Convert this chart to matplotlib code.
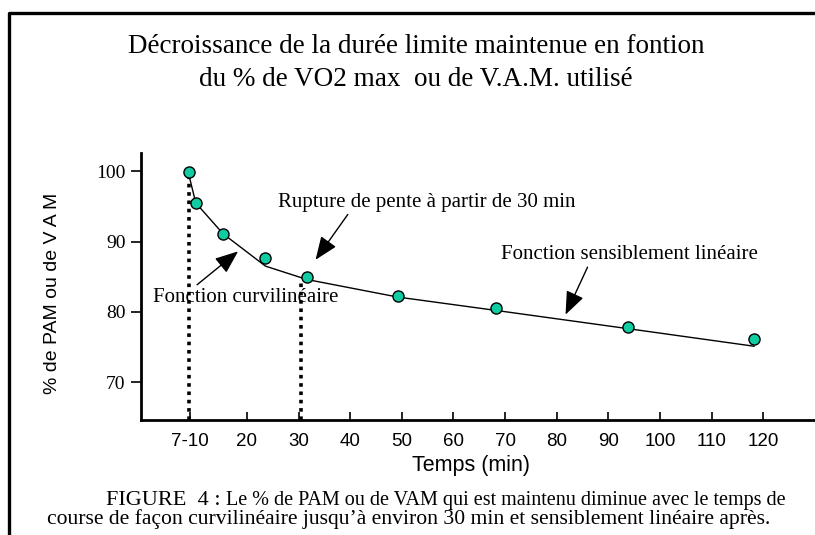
import matplotlib.pyplot as plt
from matplotlib.lines import Line2D

# measured points (minutes, % of PAM/VAM)
temps = [8.7, 10.1, 15.4, 23.6, 31.6, 49.2, 68.2, 93.8, 118.2]
pourcent = [99.9, 95.5, 91.1, 87.6, 84.9, 82.3, 80.5, 77.9, 76.1]

# hand-drawn trend curve through the points
courbe_x = [8.7, 10.1, 15.4, 23.6, 31.6, 49.2, 68.2, 93.8, 118.2]
courbe_y = [99.7, 95.5, 91.1, 86.5, 84.6, 82.1, 80.2, 77.6, 75.1]

# dotted markers at the start and at the slope break
repere_x = [8.8, 30.5]
repere_y = [99.7, 84.6]

xticks = [9, 20, 30, 40, 50, 60, 70, 80, 90, 100, 110, 120]
xlabels = ['7-10', '20', '30', '40', '50', '60', '70', '80', '90', '100', '110', '120']
yticks = [70, 80, 90, 100]

W, H = 815, 535
fig = plt.figure(figsize=(W / 100, H / 100), dpi=100)
ax = fig.add_axes([141 / W, 1 - 420 / H, (W - 141) / W, 267 / H])

serif = 'Liberation Serif'
sans = 'Liberation Sans'

ax.plot(courbe_x, courbe_y, color='black', lw=1)
for x, y in zip(repere_x, repere_y):
    ax.plot([x, x], [64.6, y], color='black', lw=2.6, linestyle=(0, (1, 1.3)))
ax.plot(temps, pourcent, 'o', color='#10cca2', markeredgecolor='black',
        markeredgewidth=1, markersize=8, zorder=5)

ax.set_xlim(-0.5, 130)
ax.set_ylim(64.6, 102.6)
ax.set_xticks(xticks)
ax.set_xticklabels(xlabels, fontfamily=sans, fontsize=13.5)
ax.set_yticks(yticks)
ax.set_yticklabels([str(v) for v in yticks], fontfamily=serif, fontsize=14)
ax.tick_params(axis='x', direction='in', length=6, width=1.2, pad=9)
ax.tick_params(axis='y', direction='out', length=7, width=1.2, pad=4)
for s in ['top', 'right']:
    ax.spines[s].set_visible(False)
for s in ['left', 'bottom']:
    ax.spines[s].set_linewidth(2)

arrow = dict(arrowstyle='-|>,head_length=0.75,head_width=0.3', color='black',
             lw=1, mutation_scale=19, shrinkA=0, shrinkB=0)
ax.annotate('Rupture de pente à partir de 30 min', xy=(33.3, 87.4), xytext=(26.1, 95.6),
            fontfamily=serif, fontsize=15, ha='left', va='center',
            arrowprops=dict(arrow, relpos=(0.24, 0)))
ax.annotate('Fonction curvilinéaire', xy=(18.3, 88.6), xytext=(1.8, 82.1),
            fontfamily=serif, fontsize=15, ha='left', va='center',
            arrowprops=dict(arrow, relpos=(0.22, 1)))
ax.annotate('Fonction sensiblement linéaire', xy=(81.7, 79.6), xytext=(69.3, 88.1),
            fontfamily=serif, fontsize=15, ha='left', va='center',
            arrowprops=dict(arrow, relpos=(0.34, 0)))

fig.text(53 / W, 1 - 293 / H, '% de PAM ou de V A M', rotation=90, ha='center',
         va='center', fontfamily=sans, fontsize=14)
fig.text(471 / W, 1 - 465 / H, 'Temps (min)', ha='center', va='center',
         fontfamily=sans, fontsize=15.5)

fig.text(416 / W, 1 - 47 / H, 'Décroissance de la durée limite maintenue en fontion',
         ha='center', va='center', fontfamily=serif, fontsize=19.5)
fig.text(416 / W, 1 - 80 / H, 'du % de VO2 max  ou de V.A.M. utilisé',
         ha='center', va='center', fontfamily=serif, fontsize=19.5)

t1 = fig.text(106 / W, 1 - 505 / H, 'FIGURE  4 : ', ha='left', va='baseline',
              fontfamily=serif, fontsize=16)
fig.add_artist(plt.Annotation('Le % de PAM ou de VAM qui est maintenu diminue avec le temps de',
                              xy=(1, 0), xycoords=t1, ha='left', va='bottom',
                              fontfamily=serif, fontsize=14.5))
fig.text(47 / W, 1 - 524 / H,
         'course de façon curvilinéaire jusqu\u2019à environ 30 min et sensiblement linéaire après.',
         ha='left', va='baseline', fontfamily=serif, fontsize=15.6)

# frame around the figure (left and top sides only)
fig.add_artist(Line2D([9 / W, 9 / W, 1], [0, 1 - 13 / H, 1 - 13 / H],
                      transform=fig.transFigure, color='black', lw=2.4))

fig.savefig('out.png', dpi=100)
